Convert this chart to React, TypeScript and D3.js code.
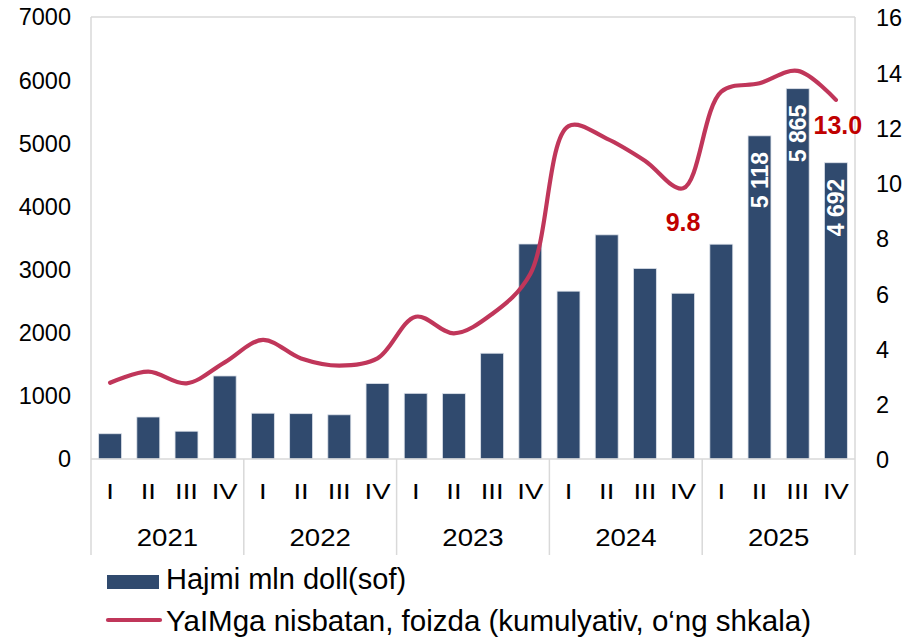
import { scaleBand, scaleLinear, line, curveCatmullRom, range } from "d3"

// Data
const years = ["2021", "2022", "2023", "2024", "2025"]
const quarters = ["I", "II", "III", "IV"]
const volume = [400, 665, 440, 1315, 725, 718, 700, 1195, 1040, 1035, 1675, 3405, 2658, 3550, 3018, 2625, 3402, 5118, 5865, 4692]
const share = [2.76, 3.16, 2.74, 3.5, 4.31, 3.64, 3.38, 3.64, 5.15, 4.55, 5.25, 6.7, 12.05, 11.6, 10.8, 9.8, 13.3, 13.6, 14.05, 13.0]
const leftTicks = [0, 1000, 2000, 3000, 4000, 5000, 6000, 7000]
const rightTicks = [0, 2, 4, 6, 8, 10, 12, 14, 16]
const labelledBars = [17, 18, 19]
const labelledPoints = [15, 19]

const W = 917
const H = 638
const plot = { left: 91, right: 855, top: 17, bottom: 459 }
const BAR = "#304A6E"
const LINE = "#C0365A"
const RED = "#C00000"
const GRID = "#D9D9D9"
const FONT = "'Liberation Sans', Arial, sans-serif"

const fmtSpace = (v: number) => String(v).replace(/\B(?=(\d{3})+(?!\d))/g, " ")

export default function App() {
  const n = years.length * quarters.length
  const x = scaleBand<number>()
    .domain(range(n))
    .range([plot.left, plot.right])
    .paddingInner(0.4)
    .paddingOuter(0.2)
  const cx = (i: number) => (x(i) as number) + x.bandwidth() / 2
  const yL = scaleLinear([0, 7000], [plot.bottom, plot.top])
  const yR = scaleLinear([0, 16], [plot.bottom, plot.top])

  const path = line<number>()
    .x((_, i) => cx(i))
    .y(d => yR(d))
    .curve(curveCatmullRom.alpha(0.5))(share) as string

  const groupW = (plot.right - plot.left) / years.length
  const axisBottom = 555

  return (
    <svg width={W} height={H} style={{ position: "absolute", left: 0, top: 0, background: "#fff" }} fontFamily={FONT}>
      {/* frame */}
      <line x1={plot.left} x2={plot.right} y1={plot.top} y2={plot.top} stroke={GRID} strokeWidth={1.5} />
      <line x1={plot.left} x2={plot.left} y1={plot.top} y2={axisBottom} stroke={GRID} strokeWidth={1.5} />
      <line x1={plot.right} x2={plot.right} y1={plot.top} y2={axisBottom} stroke={GRID} strokeWidth={1.5} />

      {/* bars */}
      {volume.map((v, i) => (
        <rect key={i} x={x(i)} y={yL(v)} width={x.bandwidth()} height={plot.bottom - yL(v)}
          fill={BAR} stroke="#dde2ea" strokeWidth={0.8} />
      ))}

      <line x1={plot.left} x2={plot.right} y1={plot.bottom} y2={plot.bottom} stroke={GRID} strokeWidth={1.5} />

      {/* bar value labels */}
      {labelledBars.map(i => (
        <text key={i} transform={`translate(${cx(i)},${yL(volume[i]) + 16}) rotate(-90)`}
          textAnchor="end" dy="0.36em" fill="#fff" fontWeight="bold" fontSize={23}>
          {fmtSpace(volume[i])}
        </text>
      ))}

      {/* line */}
      <path d={path} fill="none" stroke={LINE} strokeWidth={4.2} strokeLinecap="round" strokeLinejoin="round" />

      {labelledPoints.map(i => (
        <text key={i} x={cx(i) + (i === n - 1 ? 2 : 0)} y={yR(share[i]) + (i === n - 1 ? 34 : 43)}
          textAnchor="middle" fill={RED} fontWeight="bold" fontSize={25}>
          {share[i].toFixed(1)}
        </text>
      ))}

      {/* left axis */}
      {leftTicks.map(t => (
        <text key={t} x={71} y={yL(t)} dy="0.36em" textAnchor="end" fontSize={23.5} fill="#000">{t}</text>
      ))}
      {/* right axis */}
      {rightTicks.map(t => (
        <text key={t} x={876} y={yR(t)} dy="0.4em" textAnchor="start" fontSize={23.5} fill="#000">{t}</text>
      ))}

      {/* category axis */}
      {range(n).map(i => (
        <text key={i} transform={`translate(${cx(i)},499) scale(1.25,1)`} textAnchor="middle" fontSize={22} fill="#000">
          {quarters[i % quarters.length]}
        </text>
      ))}
      {years.map((yr, j) => (
        <text key={yr} transform={`translate(${plot.left + groupW * (j + 0.5)},546) scale(1.2,1)`}
          textAnchor="middle" fontSize={23} fill="#000">{yr}</text>
      ))}
      {range(1, years.length).map(j => (
        <line key={j} x1={plot.left + groupW * j} x2={plot.left + groupW * j} y1={plot.bottom} y2={axisBottom}
          stroke={GRID} strokeWidth={1.5} />
      ))}

      {/* legend */}
      <rect x={107} y={575} width={52} height={14} fill={BAR} />
      <text x={166} y={589} fontSize={29} fill="#000">Hajmi mln doll(sof)</text>
      <line x1={108} x2={160} y1={620} y2={620} stroke={LINE} strokeWidth={4.2} strokeLinecap="round" />
      <text x={166} y={631} fontSize={29.5} fill="#000">YaIMga nisbatan, foizda (kumulyativ, o‘ng shkala)</text>
    </svg>
  )
}
